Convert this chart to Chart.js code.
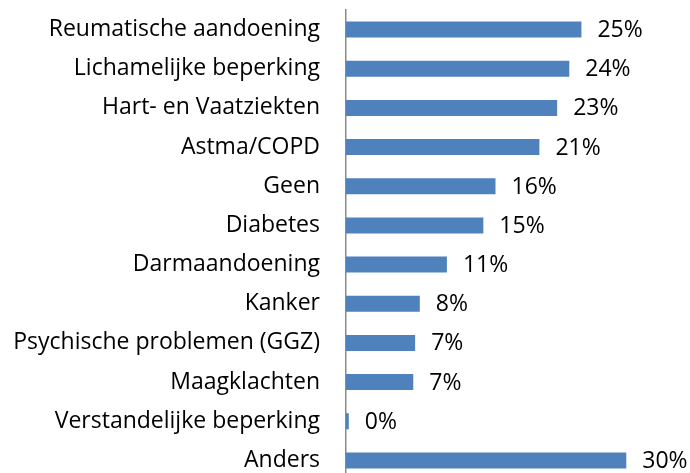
<!DOCTYPE html>
<html>
<head>
<meta charset="utf-8">
<script src="https://cdn.jsdelivr.net/npm/chart.js@4/dist/chart.umd.min.js"></script>
<style>
  html, body { margin: 0; padding: 0; background: #fff; overflow: hidden; }
  canvas { display: block; }
</style>
</head>
<body>
<canvas id="myChart" width="690" height="490"></canvas>
<script>
const categories = [
    'Reumatische aandoening',
    'Lichamelijke beperking',
    'Hart- en Vaatziekten',
    'Astma/COPD',
    'Geen',
    'Diabetes',
    'Darmaandoening',
    'Kanker',
    'Psychische problemen (GGZ)',
    'Maagklachten',
    'Verstandelijke beperking',
    'Anders'
];
const values = [25.2, 23.9, 22.6, 20.7, 16.0, 14.7, 10.8, 7.9, 7.4, 7.2, 0.3, 30.0];
const valueLabels = ['25%', '24%', '23%', '21%', '16%', '15%', '11%', '8%', '7%', '7%', '0%', '30%'];

const FONT = 'Open Sans';
const FONT_SIZE = 23;

// draws the percentage next to each bar
const barLabels = {
    id: 'barLabels',
    afterDatasetsDraw(chart) {
        const c = chart.ctx;
        const meta = chart.getDatasetMeta(0);
        c.save();
        c.font = FONT_SIZE + 'px "' + FONT + '"';
        c.fillStyle = '#000';
        c.textAlign = 'left';
        c.textBaseline = 'middle';
        meta.data.forEach((bar, i) => {
            c.fillText(valueLabels[i], bar.x + 16, bar.y + 1);
        });
        c.restore();
    }
};

const ctx = document.getElementById('myChart');

const chart = new Chart(ctx, {
    type: 'bar',
    data: {
        labels: categories,
        datasets: [{
            data: values,
            backgroundColor: '#4F81BD',
            borderWidth: 0,
            categoryPercentage: 0.82,
            barPercentage: 0.5
        }]
    },
    plugins: [barLabels],
    options: {
        indexAxis: 'y',
        responsive: false,
        animation: false,
        layout: { padding: { top: 10, bottom: 10, right: 17, left: 0 } },
        plugins: {
            legend: { display: false },
            tooltip: { enabled: false }
        },
        scales: {
            x: {
                display: false,
                min: 0,
                max: 35
            },
            y: {
                grid: { display: false, drawTicks: false },
                border: { display: true, color: '#8a8a8a', width: 1.5 },
                afterFit(scale) {
                    scale.width = 346;
                    scale.paddingTop = 0;
                    scale.paddingBottom = 0;
                },
                ticks: {
                    color: '#000',
                    padding: 26,
                    autoSkip: false,
                    font: { family: FONT, size: FONT_SIZE }
                }
            }
        }
    }
});
</script>
</body>
</html>
